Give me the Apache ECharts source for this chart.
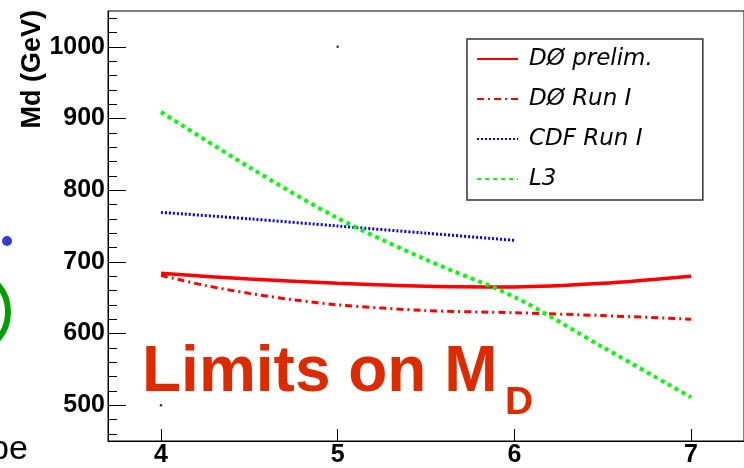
<!DOCTYPE html>
<html>
<head>
<meta charset="utf-8">
<script src="https://cdn.jsdelivr.net/npm/echarts@6/dist/echarts.min.js"></script>
<style>
  html, body { margin: 0; padding: 0; background: #fff; }
  #chart { width: 744px; height: 468px; }
</style>
</head>
<body>
<div id="chart"></div>
<script>
// axis ticks
const xTicks = [4, 5, 6, 7]
const yTicks = [500, 600, 700, 800, 900, 1000]
const yMinorTicks = [460, 480, 520, 540, 560, 580, 620, 640, 660, 680, 720, 740, 760, 780,
  820, 840, 860, 880, 920, 940, 960, 980, 1020, 1040]

// limits on Md (GeV) vs n
const d0PrelimX = [4, 4.5, 5, 5.5, 6, 6.5, 7]
const d0PrelimY = [684, 676, 670, 666, 665, 670, 680]
const d0Run1X = [4, 4.25, 4.5, 4.75, 5, 5.5, 6, 6.5, 7]
const d0Run1Y = [681, 667, 656, 647, 640, 632, 629, 625, 620]
const cdfRun1X = [4, 4.5, 5, 5.5, 6]
const cdfRun1Y = [769, 760, 750, 740, 730]
const l3X = [4, 4.5, 5, 5.5, 6, 6.5, 7]
const l3Y = [909, 832, 761, 703, 651, 581, 511]
// stray marker dots in the frame
const dotX = [4, 5, 6, 7]
const dotY = [500, 1000, 1000, 1000]

const names = ['DØ prelim.', 'DØ Run I', 'CDF Run I', 'L3']

function pairs(xs, ys) {
  return xs.map((x, i) => [x, ys[i]])
}

var myChart = echarts.init(document.getElementById('chart'))

let tickFont = {
  fontFamily: 'Liberation Sans',
  fontWeight: 'bold',
  fontSize: 25,
  color: '#000',
  formatter: function (v) {
    return String(v)
  }
}

let option = {
  animation: false,
  backgroundColor: '#fff',
  grid: {
    left: 108,
    top: 11,
    width: 640,
    height: 433,
    show: true,
    borderColor: '#000',
    borderWidth: 1
  },
  legend: {
    data: names,
    orient: 'vertical',
    left: 467,
    top: 39,
    backgroundColor: '#fff',
    borderColor: '#333',
    borderWidth: 1.5,
    padding: [8, 50, 9, 9],
    itemWidth: 41,
    itemHeight: 14,
    itemGap: 16,
    selectedMode: false,
    // hide the symbol ECharts puts in the middle of line icons
    itemStyle: { color: 'rgba(0,0,0,0)', borderWidth: 0 },
    textStyle: {
      fontFamily: 'DejaVu Sans',
      fontStyle: 'italic',
      fontSize: 23,
      lineHeight: 24,
      color: '#000',
      padding: [0, 0, 0, 6]
    }
  },
  xAxis: {
    type: 'value',
    min: 3.7,
    max: 7.3,
    axisLine: { show: true, lineStyle: { color: '#000', width: 1 } },
    axisTick: { show: true, inside: true, length: 12, customValues: xTicks, lineStyle: { color: '#000' } },
    axisLabel: Object.assign({ customValues: xTicks, margin: 2 }, tickFont),
    splitLine: { show: false }
  },
  yAxis: [
    {
      type: 'value',
      position: 'left',
      min: 450,
      max: 1050,
      axisLine: { show: true, lineStyle: { color: '#000', width: 1 } },
      axisTick: { show: true, inside: true, length: 18, customValues: yTicks, lineStyle: { color: '#000' } },
      axisLabel: Object.assign({ customValues: yTicks, margin: 3 }, tickFont),
      splitLine: { show: false }
    },
    {
      // minor ticks only
      type: 'value',
      position: 'left',
      min: 450,
      max: 1050,
      axisLine: { show: false },
      axisTick: { show: true, inside: true, length: 9, customValues: yMinorTicks, lineStyle: { color: '#000' } },
      axisLabel: { show: false },
      splitLine: { show: false }
    }
  ],
  series: [
    {
      name: names[0],
      type: 'line',
      data: pairs(d0PrelimX, d0PrelimY),
      symbol: 'none',
      smooth: 0.3,
      color: '#ff0000',
      lineStyle: { width: 3.5, type: 'solid' }
    },
    {
      name: names[1],
      type: 'line',
      data: pairs(d0Run1X, d0Run1Y),
      symbol: 'none',
      smooth: 0.3,
      color: '#ff0000',
      lineStyle: { width: 3, type: [7, 4, 2, 4] }
    },
    {
      name: names[2],
      type: 'line',
      data: pairs(cdfRun1X, cdfRun1Y),
      symbol: 'none',
      smooth: 0.3,
      color: '#0000ff',
      lineStyle: { width: 3, type: [2, 2] }
    },
    {
      name: names[3],
      type: 'line',
      data: pairs(l3X, l3Y),
      symbol: 'none',
      smooth: 0.3,
      color: '#00ff00',
      lineStyle: { width: 4, type: [4, 4] }
    },
    {
      name: 'dots',
      type: 'scatter',
      data: pairs(dotX, dotY),
      symbolSize: 2.5,
      color: '#000',
      silent: true
    }
  ],
  graphic: [
    {
      type: 'text',
      x: 46,
      y: 10,
      rotation: Math.PI / 2,
      style: {
        text: 'Md (GeV)',
        font: 'bold 27px "Liberation Sans"',
        fill: '#000',
        align: 'right',
        verticalAlign: 'bottom'
      }
    },
    {
      type: 'text',
      x: 142,
      y: 341,
      style: {
        text: 'Limits on M',
        font: 'bold 64px "Liberation Sans"',
        fill: '#dd2a00',
        align: 'left',
        verticalAlign: 'top'
      }
    },
    {
      type: 'text',
      x: 505,
      y: 384,
      style: {
        text: 'D',
        font: 'bold 39px "Liberation Sans"',
        fill: '#dd2a00',
        align: 'left',
        verticalAlign: 'top'
      }
    },
    // bits of the slide cut off at the left edge
    {
      type: 'circle',
      shape: { cx: 7, cy: 241, r: 5 },
      style: { fill: '#3a3ad0' }
    },
    {
      type: 'ellipse',
      shape: { cx: -24, cy: 312, rx: 32, ry: 37 },
      style: { fill: null, stroke: '#00a000', lineWidth: 6 }
    },
    {
      type: 'text',
      x: -10,
      y: 433,
      style: {
        text: 'pe',
        font: '34px "Liberation Sans"',
        fill: '#000',
        align: 'left',
        verticalAlign: 'top'
      }
    }
  ]
}

myChart.setOption(option)
window.onresize = function () {
  myChart.resize()
}
</script>
</body>
</html>
